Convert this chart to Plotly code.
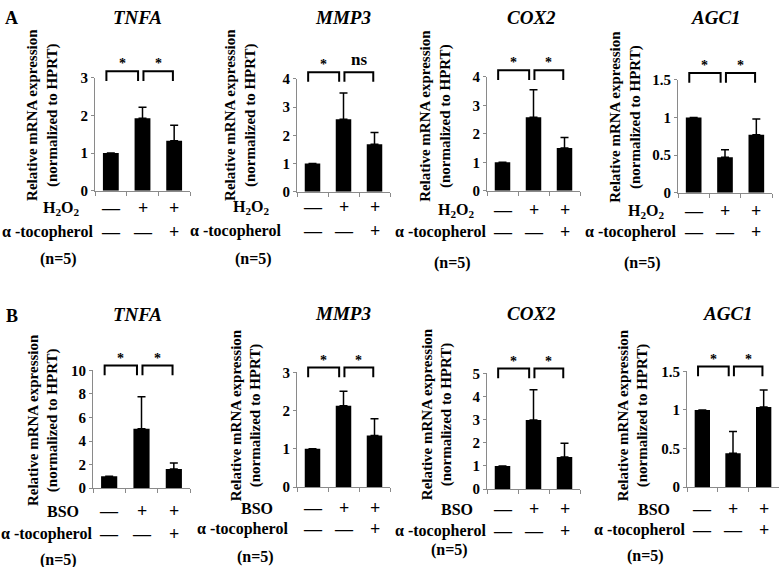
import plotly.graph_objects as go

W, H = 779, 567
FONT = "Liberation Serif, Times New Roman, Times, serif"

# ---------------- data ----------------
x_idx = [0, 1, 2]                       # control, stress, stress + alpha-tocopherol
genes = ["TNFA", "MMP3", "COX2", "AGC1"]

# Panel A: H2O2
A_TNFA_mean = [1.00, 1.93, 1.33]
A_TNFA_err = [0.00, 0.29, 0.41]
A_MMP3_mean = [1.00, 2.57, 1.68]
A_MMP3_err = [0.00, 0.93, 0.42]
A_COX2_mean = [1.00, 2.58, 1.50]
A_COX2_err = [0.00, 0.97, 0.37]
A_AGC1_mean = [1.00, 0.47, 0.77]
A_AGC1_err = [0.00, 0.10, 0.21]

# Panel B: BSO
B_TNFA_mean = [1.00, 5.04, 1.61]
B_TNFA_err = [0.00, 2.72, 0.52]
B_MMP3_mean = [1.00, 2.13, 1.35]
B_MMP3_err = [0.00, 0.38, 0.44]
B_COX2_mean = [1.00, 2.99, 1.39]
B_COX2_err = [0.00, 1.30, 0.59]
B_AGC1_mean = [1.00, 0.44, 1.04]
B_AGC1_err = [0.00, 0.28, 0.22]

A_ymax = [3, 4, 4, 1.5]
A_dtick = [1, 1, 1, 0.5]
B_ymax = [10, 3, 5, 1.5]
B_dtick = [2, 1, 1, 0.5]

A_sig = [["*", "*"], ["*", "ns"], ["*", "*"], ["*", "*"]]
B_sig = [["*", "*"], ["*", "*"], ["*", "*"], ["*", "*"]]

stress_row = ["—", "+", "+"]
toco_row = ["—", "—", "+"]
A_stress_label = "H<sub>2</sub>O<sub>2</sub>"
B_stress_label = "BSO"
toco_label = "α -tocopherol"
n_label = "(n=5)"
ylabel = "Relative mRNA expression<br>(normalized to HPRT)"

# ---------------- layout geometry (pixels) ----------------
# plot box: x0, x1, ytop, ybottom
A_box = [(95, 190, 72, 188), (297, 390, 73, 189), (487, 580, 71, 188), (678, 772, 74, 190)]
B_box = [(93, 190, 373, 494), (297, 390, 375, 493), (487, 580, 376, 495), (687, 779, 374, 493)]
A_title_xy = [(137, 10), (343, 10), (531, 10), (716, 10)]
B_title_xy = [(137, 315), (343, 314), (531, 314), (728, 314)]
A_ylab_xy = [(43, 110), (241, 110), (436, 111), (626, 112)]
B_ylab_xy = [(43, 424), (246, 419), (437, 418), (633, 419)]
# stress label right edge / y, toco label right edge / y, n label centre x / y
A_rows = [(82, 206, 95, 231, 58, 258), (272, 205, 283, 229, 253, 258),
          (477, 208, 488, 230, 452, 262), (667, 209, 678, 230, 642, 262)]
B_rows = [(81, 518, 94, 541, 58, 568), (275, 515, 290, 536, 255, 565),
          (475, 516, 488, 538, 450, 558), (672, 516, 687, 537, 645, 564)]


def px(x):
    return x / W


def py(y):
    return 1 - y / H


fig = go.Figure()
annotations = []
shapes = []

panels = []
for g in range(4):
    panels.append(dict(mean=globals()[f"A_{genes[g]}_mean"], err=globals()[f"A_{genes[g]}_err"],
                       ymax=A_ymax[g], dtick=A_dtick[g], sig=A_sig[g], box=A_box[g],
                       title=genes[g], txy=A_title_xy[g], lxy=A_ylab_xy[g], rows=A_rows[g],
                       slabel=A_stress_label, br_top=7))
for g in range(4):
    panels.append(dict(mean=globals()[f"B_{genes[g]}_mean"], err=globals()[f"B_{genes[g]}_err"],
                       ymax=B_ymax[g], dtick=B_dtick[g], sig=B_sig[g], box=B_box[g],
                       title=genes[g], txy=B_title_xy[g], lxy=B_ylab_xy[g], rows=B_rows[g],
                       slabel=B_stress_label, br_top=5))

AX_COL = "#8a8a8a"
for k, p in enumerate(panels):
    sfx = "" if k == 0 else str(k + 1)
    xa, ya = "x" + sfx, "y" + sfx
    fig.add_trace(go.Bar(
        x=x_idx, y=p["mean"], xaxis=xa, yaxis=ya, width=0.5,
        marker=dict(color="black", line=dict(width=0)),
        error_y=dict(type="data", array=p["err"], arrayminus=[0, 0, 0], symmetric=False,
                     color="black", thickness=1.5, width=4),
        showlegend=False, hoverinfo="skip"))
    x0, x1, yt, yb = p["box"]
    fig.update_layout(**{
        "xaxis" + sfx: dict(domain=[px(x0), px(x1)], anchor=ya, range=[-0.5, 2.5],
                           showline=True, linecolor=AX_COL, linewidth=1,
                           tickmode="array", tickvals=[-0.5, 0.5, 1.5, 2.5], showticklabels=False,
                           ticks="outside", ticklen=4, tickcolor=AX_COL, tickwidth=1,
                           showgrid=False, zeroline=False, fixedrange=True),
        "yaxis" + sfx: dict(domain=[py(yb), py(yt)], anchor=xa, range=[0, p["ymax"]],
                           tick0=0, dtick=p["dtick"], showline=True, linecolor=AX_COL, linewidth=1,
                           ticks="outside", ticklen=3, tickcolor=AX_COL, tickwidth=1,
                           tickfont=dict(family=FONT, size=15, color="black", weight="bold"),
                           showgrid=False, zeroline=False, fixedrange=True),
    })
    hpx = yb - yt
    top = 1 + p["br_top"] / hpx
    leg = 1 + (p["br_top"] - 10) / hpx
    brs = [(x_idx[0] - 0.14, x_idx[1] - 0.14), (x_idx[1] + 0.03, x_idx[2] - 0.04)]
    for (bx0, bx1), s in zip(brs, p["sig"]):
        shapes.append(dict(type="path", xref=xa, yref=ya + " domain",
                           path=f"M {bx0},{leg} L {bx0},{top} L {bx1},{top} L {bx1},{leg}",
                           line=dict(color="black", width=2)))
        annotations.append(dict(x=(bx0 + bx1) / 2, y=top, xref=xa, yref=ya + " domain",
                                text=f"<b>{s}</b>", showarrow=False, xanchor="center", yanchor="bottom",
                                yshift=1 if s == "ns" else -2,
                                font=dict(family=FONT, size=17 if s == "ns" else 14, color="black")))
    # gene title
    tx, ty = p["txy"]
    annotations.append(dict(x=px(tx), y=py(ty), xref="paper", yref="paper",
                            text=f"<b><i>{p['title']}</i></b>", showarrow=False,
                            xanchor="center", yanchor="middle",
                            font=dict(family=FONT, size=19, color="black")))
    # y label
    lx, ly = p["lxy"]
    annotations.append(dict(x=px(lx), y=py(ly), xref="paper", yref="paper", text=f"<b>{ylabel}</b>",
                            textangle=-90, showarrow=False, xanchor="center", yanchor="middle",
                            font=dict(family=FONT, size=15, color="black")))
    # treatment table
    sx, sy, tx2, ty2, nx, ny = p["rows"]
    annotations.append(dict(x=px(sx), y=py(sy), xref="paper", yref="paper", text=f"<b>{p['slabel']}</b>",
                            showarrow=False, xanchor="right", yanchor="middle",
                            font=dict(family=FONT, size=16, color="black")))
    annotations.append(dict(x=px(tx2), y=py(ty2), xref="paper", yref="paper", text=f"<b>{toco_label}</b>",
                            showarrow=False, xanchor="right", yanchor="middle",
                            font=dict(family=FONT, size=16, color="black")))
    annotations.append(dict(x=px(nx), y=py(ny), xref="paper", yref="paper", text=f"<b>{n_label}</b>",
                            showarrow=False, xanchor="center", yanchor="middle",
                            font=dict(family=FONT, size=16, color="black")))
    for i in x_idx:
        for sym, yy in ((stress_row[i], sy), (toco_row[i], ty2)):
            annotations.append(dict(x=i, y=py(yy), xref=xa, yref="paper", text=f"<b>{sym}</b>",
                                    showarrow=False, xanchor="center", yanchor="middle",
                                    font=dict(family=FONT, size=18, color="black")))

# panel letters
annotations.append(dict(x=px(11), y=py(10), xref="paper", yref="paper", text="<b>A</b>", showarrow=False,
                        xanchor="center", yanchor="middle", font=dict(family=FONT, size=18, color="black")))
annotations.append(dict(x=px(12), y=py(317), xref="paper", yref="paper", text="<b>B</b>", showarrow=False,
                        xanchor="center", yanchor="middle", font=dict(family=FONT, size=18, color="black")))

fig.update_layout(width=W, height=H, margin=dict(l=0, r=0, t=0, b=0),
                  paper_bgcolor="white", plot_bgcolor="white",
                  annotations=annotations, shapes=shapes, bargap=0.5,
                  font=dict(family=FONT, color="black"))
fig.write_html("out.html", config={"displayModeBar": False},
               post_script="document.body.style.margin='0px';document.body.style.overflow='hidden';")
